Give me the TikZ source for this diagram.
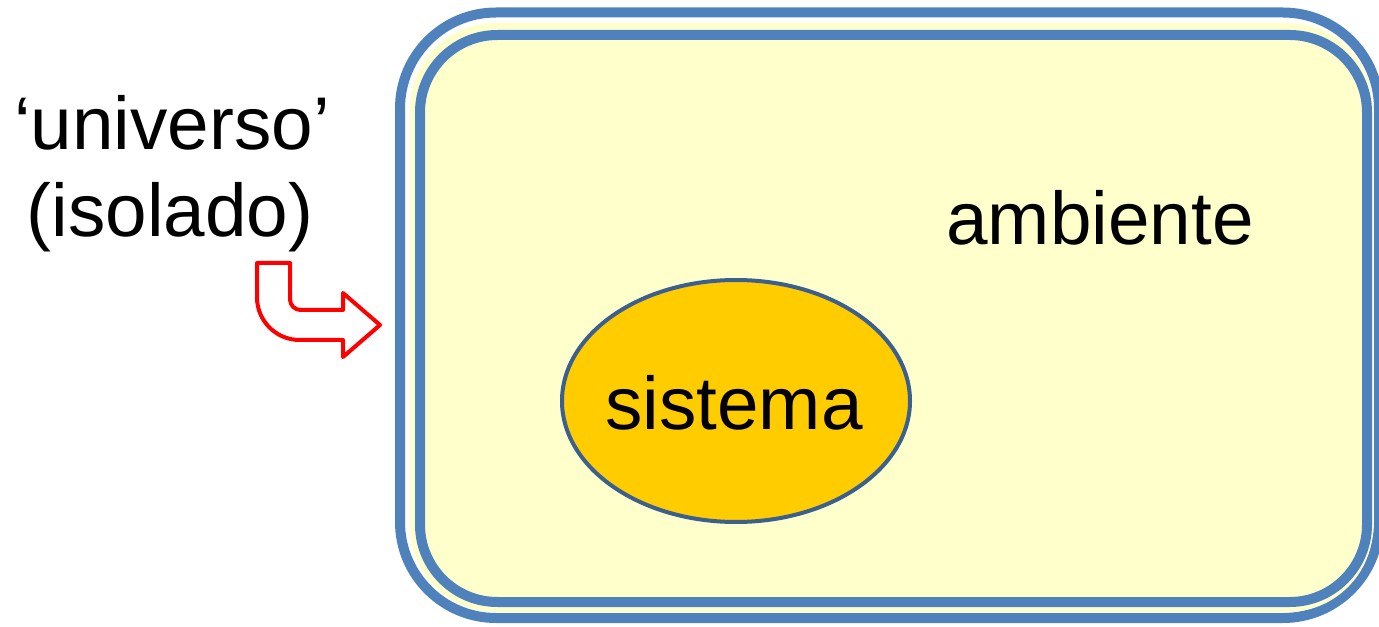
\documentclass[tikz,border=0pt]{standalone}
\usepackage{fontspec}
\setmainfont{Liberation Sans}
\usepackage{xcolor}
\usetikzlibrary{shapes.geometric}

\definecolor{bordablue}{HTML}{4F81BD}
\definecolor{fundoamb}{HTML}{FFFFCC}
\definecolor{sistfill}{HTML}{FFCC00}
\definecolor{sistline}{HTML}{3B5F8E}

\tikzset{
  grande/.style={font=\fontsize{56}{66}\selectfont, inner sep=0pt},
  borda/.style={draw=bordablue, line width=7.5pt},
}

\begin{document}
\begin{tikzpicture}[x=0.75pt, y=-0.75pt]
  \useasboundingbox (0,0) rectangle (1379,627);
  % parede do universo
  \draw[borda, fill=white, rounded corners=72pt] (400,12.5) rectangle (1379,618);
  \fill[fundoamb, rounded corners=64pt] (410,23) rectangle (1373,612);
  \draw[borda, fill=fundoamb, rounded corners=58pt] (420,35) rectangle (1367,602);

  % sistema
  \node[ellipse, draw=sistline, line width=3pt, fill=sistfill,
        minimum width=348*0.75pt, minimum height=242*0.75pt] (sis) at (736,401) {};
  \node[grande, anchor=base] (sistxt) at (734,430) {sistema};
  \node[grande, anchor=base] (amb) at (1100,245) {ambiente};

  % legenda
  \node[grande, anchor=base] (univ) at (172,150) {‘universo’};
  \node[grande, anchor=base] (isol) at (170,237) {(isolado)};

  % seta dobrada
  \draw[red, line width=3pt, line join=round]
    (257,263) -- (290,263) [rounded corners=8pt] -- (290,310) [sharp corners]
    -- (343,310) -- (343,293) -- (380,325) -- (343,357) -- (343,340)
    [rounded corners=32pt] -- (257,340) [sharp corners] -- cycle;
\end{tikzpicture}
\end{document}
